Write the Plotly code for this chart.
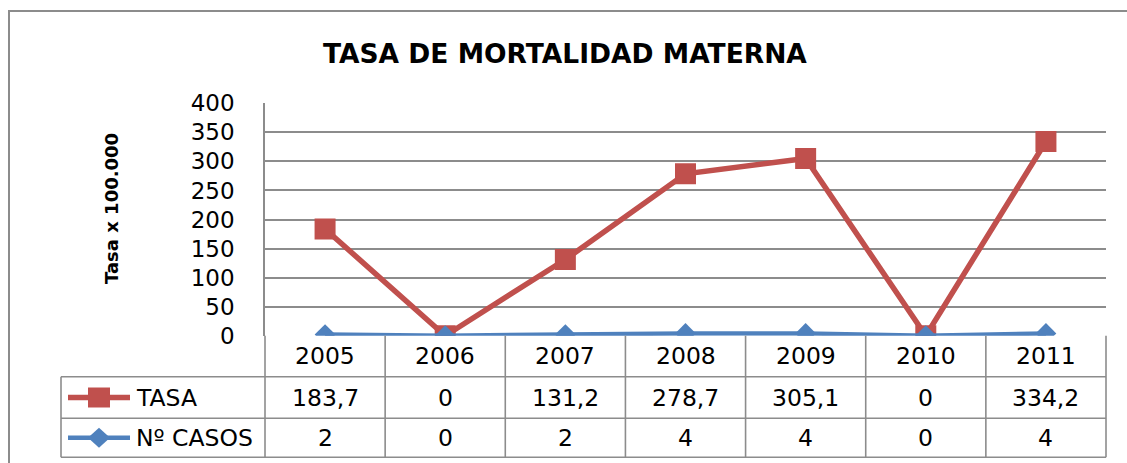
import plotly.graph_objects as go

# ---- data -------------------------------------------------------------
years = ["2005", "2006", "2007", "2008", "2009", "2010", "2011"]
tasa = [183.7, 0, 131.2, 278.7, 305.1, 0, 334.2]
casos = [2, 0, 2, 4, 4, 0, 4]
y_ticks = [0, 50, 100, 150, 200, 250, 300, 350, 400]

title_text = "TASA DE MORTALIDAD MATERNA"
y_title = "Tasa x 100.000"
series_names = ["TASA", "Nº CASOS"]

# ---- styling ----------------------------------------------------------
W, H = 1127, 463
RED = "#C0504D"
BLUE = "#4F81BD"
GRID = "#8c8c8c"
FONT = "DejaVu Sans"

# plot-area edges in page pixels
PX_L, PX_R = 265, 1106
PY_TOP, PY_ZERO = 103.3, 335.7
# data-table row boundaries
ROW_HDR_BOT, ROW1_BOT, ROW2_BOT = 376.7, 418.3, 457.3
TABLE_L = 61


def fx(p):
    return p / W


def fy(p):
    return 1 - p / H


def fmt(v):
    return f"{v:g}".replace(".", ",")


fig = go.Figure()

fig.add_trace(go.Scatter(
    x=years, y=tasa, name=series_names[0], mode="lines+markers",
    line=dict(color=RED, width=5.5),
    marker=dict(symbol="square", size=21, color=RED),
))
fig.add_trace(go.Scatter(
    x=years, y=casos, name=series_names[1], mode="lines+markers",
    line=dict(color=BLUE, width=4.5),
    marker=dict(symbol="diamond", size=16, color=BLUE),
))

shapes = []
line_style = dict(color=GRID, width=1.6)

# chart frame
shapes.append(dict(type="rect", xref="paper", yref="paper",
                   x0=fx(9), x1=fx(1150), y0=fy(11), y1=fy(490),
                   line=dict(color=GRID, width=2)))

# data table grid
n = len(years)
col_w = (PX_R - PX_L) / n
for i in range(n + 1):
    xpix = PX_L + i * col_w
    shapes.append(dict(type="line", xref="paper", yref="paper",
                       x0=fx(xpix), x1=fx(xpix), y0=fy(PY_ZERO), y1=fy(ROW2_BOT),
                       line=line_style))
for yb in (ROW_HDR_BOT, ROW1_BOT, ROW2_BOT):
    shapes.append(dict(type="line", xref="paper", yref="paper",
                       x0=fx(TABLE_L), x1=fx(PX_R), y0=fy(yb), y1=fy(yb),
                       line=line_style))
shapes.append(dict(type="line", xref="paper", yref="paper",
                   x0=fx(TABLE_L), x1=fx(TABLE_L), y0=fy(ROW_HDR_BOT), y1=fy(ROW2_BOT),
                   line=line_style))

# legend keys inside the table
row1_c = (ROW_HDR_BOT + ROW1_BOT) / 2
row2_c = (ROW1_BOT + ROW2_BOT) / 2
key_x0, key_x1, key_c = 68, 130, 99
shapes.append(dict(type="line", xref="paper", yref="paper",
                   x0=fx(key_x0), x1=fx(key_x1), y0=fy(row1_c), y1=fy(row1_c),
                   line=dict(color=RED, width=5.5)))
shapes.append(dict(type="rect", xref="paper", yref="paper",
                   x0=fx(key_c - 11), x1=fx(key_c + 11),
                   y0=fy(row1_c - 10), y1=fy(row1_c + 10),
                   fillcolor=RED, line=dict(width=0)))
shapes.append(dict(type="line", xref="paper", yref="paper",
                   x0=fx(key_x0), x1=fx(key_x1), y0=fy(row2_c), y1=fy(row2_c),
                   line=dict(color=BLUE, width=4.5)))
dx, dy = 11, 10
shapes.append(dict(type="path", xref="paper", yref="paper",
                   path=(f"M {fx(key_c - dx)} {fy(row2_c)} L {fx(key_c)} {fy(row2_c - dy)} "
                         f"L {fx(key_c + dx)} {fy(row2_c)} L {fx(key_c)} {fy(row2_c + dy)} Z"),
                   fillcolor=BLUE, line=dict(width=0)))

annotations = []
cell_font = dict(family=FONT, size=23.5, color="black")
hdr_c = (PY_ZERO + ROW_HDR_BOT) / 2
for i, (yr, t, c) in enumerate(zip(years, tasa, casos)):
    annotations.append(dict(x=i, xref="x", y=fy(hdr_c), yref="paper", text=yr,
                            showarrow=False, font=cell_font, yanchor="middle"))
    annotations.append(dict(x=i, xref="x", y=fy(row1_c), yref="paper", text=fmt(t),
                            showarrow=False, font=cell_font, yanchor="middle"))
    annotations.append(dict(x=i, xref="x", y=fy(row2_c), yref="paper", text=fmt(c),
                            showarrow=False, font=cell_font, yanchor="middle"))
for name, yc in zip(series_names, (row1_c, row2_c)):
    annotations.append(dict(x=fx(134), xref="paper", y=fy(yc), yref="paper", text=name,
                            showarrow=False, font=cell_font,
                            xanchor="left", yanchor="middle"))

# chart title and axis title
annotations.append(dict(x=fx(565), y=fy(53), xref="paper", yref="paper",
                        text=f"<b>{title_text}</b>", showarrow=False,
                        font=dict(family=FONT, size=26.5, color="black"),
                        xanchor="center", yanchor="middle"))
annotations.append(dict(x=fx(111), y=fy(209), xref="paper", yref="paper",
                        text=f"<b>{y_title}</b>", showarrow=False, textangle=-90,
                        font=dict(family=FONT, size=18, color="black"),
                        xanchor="center", yanchor="middle"))

fig.update_layout(
    width=W, height=H,
    margin=dict(l=0, r=0, t=0, b=0, autoexpand=False),
    paper_bgcolor="white", plot_bgcolor="white",
    showlegend=False,
    shapes=shapes,
    annotations=annotations,
    xaxis=dict(domain=[fx(PX_L), fx(PX_R)], type="category",
               categoryorder="array", categoryarray=years,
               range=[-0.5, n - 0.5], showticklabels=False, automargin=False,
               showgrid=False, zeroline=False, showline=False, ticks=""),
    yaxis=dict(domain=[fy(PY_ZERO), fy(PY_TOP)], range=[0, 400],
               tickvals=y_ticks, ticks="", ticklabelstandoff=24, automargin=False,
               tickfont=dict(family=FONT, size=23, color="black"),
               showgrid=True, gridcolor=GRID, gridwidth=1.6,
               zeroline=False, showline=True, linecolor=GRID, linewidth=1.6),
)

fig.write_html("out.html")
